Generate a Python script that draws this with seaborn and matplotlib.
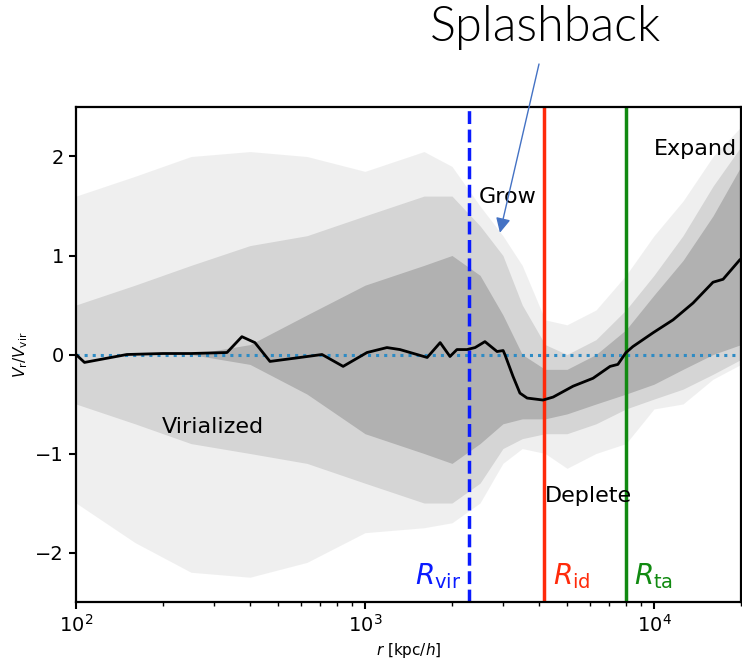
import numpy as np
import pandas as pd
import matplotlib
matplotlib.use('Agg')
import matplotlib.pyplot as plt
import seaborn as sns

# 평균 속도 프로파일
r_mean = [100, 107, 150, 200, 250, 333, 375, 416, 469, 596, 710, 840, 1016,
          1191, 1321, 1641, 1820, 1968, 2080, 2254, 2404, 2600, 2864, 3006,
          3048, 3251, 3436, 3639, 4130, 4477, 5248, 6152, 7047, 7499, 8000,
          8450, 9931, 11640, 13650, 16000, 17340, 19860]
v_mean = [0.0, -0.08, 0.0, 0.01, 0.01, 0.02, 0.18, 0.12, -0.07, -0.03, 0.0,
          -0.12, 0.02, 0.07, 0.05, -0.03, 0.12, -0.02, 0.05, 0.05, 0.07, 0.13,
          0.03, 0.04, 0.0, -0.22, -0.39, -0.44, -0.46, -0.43, -0.32, -0.24,
          -0.12, -0.10, 0.02, 0.08, 0.22, 0.35, 0.52, 0.73, 0.76, 0.96]

# 입자 분포의 윤곽 (희박/중간/밀집 영역)
r_env = [100, 160, 250, 400, 630, 1000, 1600, 2000, 2500, 3000, 3500, 4200,
         5000, 6300, 8000, 10000, 12600, 16000, 20000]
sparse_hi = [1.6, 1.8, 2.0, 2.05, 2.0, 1.85, 2.05, 1.9, 1.5, 1.2, 0.9, 0.35,
             0.3, 0.45, 0.8, 1.2, 1.55, 2.0, 2.3]
sparse_lo = [-1.5, -1.9, -2.2, -2.25, -2.1, -1.8, -1.75, -1.7, -1.5, -1.1,
             -0.95, -1.0, -1.15, -1.0, -0.9, -0.55, -0.5, -0.25, -0.1]
mid_hi = [0.5, 0.7, 0.9, 1.1, 1.2, 1.4, 1.6, 1.6, 1.3, 1.0, 0.5, 0.1, 0.0,
          0.15, 0.45, 0.8, 1.2, 1.7, 2.1]
mid_lo = [-0.5, -0.7, -0.9, -1.0, -1.1, -1.3, -1.5, -1.5, -1.3, -0.95, -0.85,
          -0.8, -0.8, -0.7, -0.55, -0.45, -0.35, -0.2, -0.05]
dense_hi = [0.0, 0.0, 0.0, 0.1, 0.4, 0.7, 0.9, 1.0, 0.8, 0.4, 0.0, -0.15,
            -0.15, 0.0, 0.25, 0.6, 0.95, 1.4, 1.9]
dense_lo = [0.0, 0.0, 0.0, -0.1, -0.4, -0.8, -1.0, -1.1, -0.9, -0.7, -0.65,
            -0.65, -0.6, -0.5, -0.4, -0.3, -0.15, 0.0, 0.1]

# 특성 반지름
R_vir = 2290
R_id = 4160
R_ta = 8000

sns.set_style('ticks')
plt.rcParams['font.family'] = ['DejaVu Sans']
plt.rcParams['text.color'] = 'black'
plt.rcParams['axes.labelcolor'] = 'black'
plt.rcParams['xtick.color'] = 'black'
plt.rcParams['ytick.color'] = 'black'
plt.rcParams['axes.edgecolor'] = 'black'

fig = plt.figure(figsize=(7.42, 6.68), dpi=100)
ax = fig.add_axes([76/742, 1-602/668, 665/742, 495/668])

gray = '#999999'
ax.fill_between(r_env, sparse_lo, sparse_hi, color=gray, alpha=0.15, linewidth=0)
ax.fill_between(r_env, mid_lo, mid_hi, color=gray, alpha=0.3, linewidth=0)
ax.fill_between(r_env, dense_lo, dense_hi, color=gray, alpha=0.6, linewidth=0)

ax.axhline(0, ls=':', lw=2.2, color='#2e8bc4')
ax.axvline(R_vir, ls='--', lw=2.5, color='#0a1bff')
ax.axvline(R_id, ls='-', lw=2.5, color='#ff2a0a')
ax.axvline(R_ta, ls='-', lw=2.5, color='#118a11')

df = pd.DataFrame({'r': r_mean, 'v': v_mean})
sns.lineplot(data=df, x='r', y='v', color='black', lw=2, estimator=None,
             sort=False, ax=ax)

ax.set_xscale('log')
ax.set_xlim(100, 20000)
ax.set_ylim(-2.5, 2.5)
ax.set_yticks([-2, -1, 0, 1, 2])
ax.tick_params(labelsize=14, width=1.5, length=5)
ax.tick_params(which='minor', width=1, length=3)
for s in ax.spines.values():
    s.set_linewidth(1.6)
ax.set_xlabel(r'$r$ [kpc/$h$]', fontsize=11)
ax.set_ylabel(r'$V_{\rm r}/V_{\rm vir}$', fontsize=11)

ax.text(298, -0.73, 'Virialized', fontsize=16, ha='center', va='center')
ax.text(3126, 1.59, 'Grow', fontsize=16, ha='center', va='center')
ax.text(5915, -1.43, 'Deplete', fontsize=16, ha='center', va='center')
ax.text(13870, 2.08, 'Expand', fontsize=16, ha='center', va='center')
ax.text(1790, -2.24, r'$R_{\rm vir}$', fontsize=20, color='#0a1bff', ha='center', va='center')
ax.text(5200, -2.24, r'$R_{\rm id}$', fontsize=20, color='#ff2a0a', ha='center', va='center')
ax.text(9930, -2.24, r'$R_{\rm ta}$', fontsize=20, color='#118a11', ha='center', va='center')

fig.text(545/742, 1-27/668, 'Splashback', fontsize=35, ha='center', va='center',
         family=['Lato', 'DejaVu Sans'], fontweight=300)
ax.annotate('', xy=(2930, 1.23), xycoords='data',
            xytext=(539/742, 1-64/668), textcoords='figure fraction',
            arrowprops=dict(arrowstyle='-|>', color='#4472c4', lw=1,
                            mutation_scale=22, shrinkA=0, shrinkB=0))

fig.savefig('out.png', dpi=100)
